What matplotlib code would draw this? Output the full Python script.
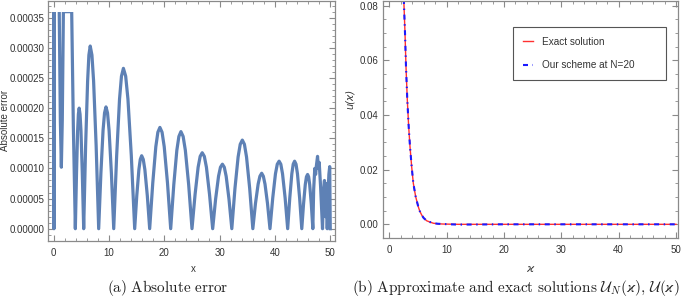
import matplotlib
matplotlib.use("Agg")
import matplotlib.pyplot as plt
from matplotlib.patches import Rectangle
from matplotlib.ticker import MultipleLocator, FormatStrFormatter

plt.rcParams['font.family'] = ['Liberation Sans Narrow', 'Liberation Sans', 'DejaVu Sans']

# (a) absolute error, y values in units of 1e-5
err_x = [0.0, 0.05, 0.12, 1.0, 1.2, 1.38, 1.55, 1.75,
         3.25, 3.55, 3.91,
         4.12, 4.32, 4.46, 4.6, 4.76, 4.93, 5.17, 5.42,
         5.77, 6.13, 6.36, 6.6, 6.91, 7.21, 7.67, 8.13,
         8.53, 8.92, 9.19, 9.45, 9.73, 10.01, 10.43, 10.85,
         11.38, 11.9, 12.25, 12.6, 13.01, 13.42, 14.03, 14.64,
         15.02, 15.4, 15.65, 15.9, 16.19, 16.48, 16.92, 17.35,
         17.91, 18.46, 18.83, 19.2, 19.59, 19.98, 20.57, 21.15,
         21.71, 22.26, 22.63, 23.0, 23.4, 23.8, 24.4, 25.0,
         25.56, 26.11, 26.48, 26.85, 27.23, 27.61, 28.17, 28.74,
         29.27, 29.8, 30.15, 30.5, 30.84, 31.18, 31.69, 32.2,
         32.77, 33.34, 33.72, 34.1, 34.48, 34.86, 35.43, 36.0,
         36.48, 36.96, 37.28, 37.6, 37.9, 38.2, 38.65, 39.1,
         39.6, 40.09, 40.42, 40.75, 41.06, 41.37, 41.84, 42.3,
         42.68, 43.05, 43.3, 43.55, 43.81, 44.07, 44.46, 44.85,
         45.17, 45.48, 45.69, 45.9, 46.09, 46.28, 46.57, 46.85,
         47.0, 47.2, 47.35, 47.5, 47.7, 47.85, 48.0, 48.25, 48.6,
         48.8, 48.95, 49.15, 49.3, 49.45, 49.6, 49.75, 49.9, 49.97, 50.0]
err_y = [60.0, 0.0, 60.0, 36.0, 18.0, 10.2, 18.0, 36.0,
         36.0, 17.0, 0.0,
         9.1, 16.2, 19.0, 20.0, 19.0, 16.2, 9.1, 0.0,
         13.8, 24.5, 28.8, 30.3, 28.8, 24.5, 13.8, 0.0,
         9.2, 16.3, 19.2, 20.2, 19.2, 16.3, 9.2, 0.0,
         12.1, 21.5, 25.3, 26.6, 25.3, 21.5, 12.1, 0.0,
         5.5, 9.8, 11.5, 12.1, 11.5, 9.8, 5.5, 0.0,
         7.6, 13.6, 16.0, 16.8, 16.0, 13.6, 7.6, 0.0,
         7.3, 13.0, 15.3, 16.1, 15.3, 13.0, 7.3, 0.0,
         5.7, 10.2, 12.0, 12.6, 12.0, 10.2, 5.7, 0.0,
         4.9, 8.7, 10.2, 10.7, 10.2, 8.7, 4.9, 0.0,
         6.7, 11.9, 14.0, 14.7, 14.0, 11.9, 6.7, 0.0,
         4.2, 7.4, 8.7, 9.2, 8.7, 7.4, 4.2, 0.0,
         5.1, 9.1, 10.7, 11.2, 10.7, 9.1, 5.1, 0.0,
         5.1, 9.1, 10.7, 11.2, 10.7, 9.1, 5.1, 0.0,
         4.1, 7.3, 8.6, 9.0, 8.6, 7.3, 4.1, 0.0,
         6.5, 10.0, 9.0, 10.5, 12.0, 10.0, 11.0, 7.0, 0.0,
         6.5, 8.0, 2.0, 7.5, 0.0, 6.0, 9.0, 10.3, 4.0, 0.0]

# (b) exact solution and scheme at N=20
u_x = [2.2, 2.56, 2.74, 2.91, 3.14, 3.38, 3.61, 3.9, 4.19, 4.6, 5.06, 5.3,
       5.65, 6.0, 6.52, 7.0, 7.68, 8.5, 9.4, 12.0, 20.0, 30.0, 40.0, 50.0]
exact_y = [0.112, 0.0803, 0.0699, 0.0577, 0.0455, 0.0357, 0.0284, 0.0211, 0.0150,
           0.0101, 0.0064, 0.0049, 0.0034, 0.0023, 0.0013, 0.0009, 0.0004, 0.0002,
           0.0001, 0.0, 0.0, 0.0, 0.0, 0.0]
scheme_y = [0.112, 0.0803, 0.0699, 0.0577, 0.0455, 0.0357, 0.0284, 0.0211, 0.0150,
            0.0101, 0.0064, 0.0049, 0.0034, 0.0023, 0.0013, 0.0009, 0.0004, 0.0002,
            0.0001, -0.0001, 0.0, 0.0, 0.0, 0.0]

frame_c = '#8a8a8a'
text_c = '#333333'


def style_axes(ax):
    for s in ax.spines.values():
        s.set_color(frame_c)
        s.set_linewidth(0.9)
    ax.tick_params(which='both', direction='in', top=True, right=True,
                   color=frame_c, labelcolor=text_c, labelsize=7)
    ax.tick_params(which='major', length=4, width=0.8)
    ax.tick_params(which='minor', length=2.2, width=0.6)
    ax.tick_params(axis='y', pad=3)
    ax.tick_params(axis='x', pad=5)


fig = plt.figure(figsize=(6.85, 2.98), dpi=100)

ax1 = fig.add_axes([0.0705, 0.1923, 0.4185, 0.806])
line, = ax1.plot(err_x, [v * 1e-5 for v in err_y], color='#5e81b5', lw=2.3,
                 solid_joinstyle='round')
clip = Rectangle((-5, -1), 60, 1 + 0.00036, transform=ax1.transData)
line.set_clip_path(clip)
ax1.set_xlim(-0.98, 50.85)
ax1.set_ylim(-0.0000199, 0.0003785)
ax1.xaxis.set_major_locator(MultipleLocator(10))
ax1.xaxis.set_minor_locator(MultipleLocator(2))
ax1.yaxis.set_major_locator(MultipleLocator(0.00005))
ax1.yaxis.set_minor_locator(MultipleLocator(0.00001))
ax1.yaxis.set_major_formatter(FormatStrFormatter('%.5f'))
style_axes(ax1)
ax1.set_xlabel('x', fontsize=7, color=text_c)
ax1.set_ylabel('Absolute error', fontsize=7, color=text_c, family=['Liberation Sans', 'DejaVu Sans'])
ax1.xaxis.set_label_coords(0.505, -0.097)
ax1.yaxis.set_label_coords(-0.132, 0.5)

ax2 = fig.add_axes([0.5587, 0.2003, 0.4315, 0.798])
ax2.plot(u_x, exact_y, color='#ff3030', lw=1.0, label='Exact solution')
ax2.plot(u_x, scheme_y, color='#1a1aff', lw=1.5, linestyle=(0, (2.4, 2.2, 0.7, 2.2)),
         label='Our scheme at N=20')
ax2.set_xlim(-1.15, 50.4)
ax2.set_ylim(-0.00512, 0.0819)
ax2.xaxis.set_major_locator(MultipleLocator(10))
ax2.xaxis.set_minor_locator(MultipleLocator(2))
ax2.yaxis.set_major_locator(MultipleLocator(0.02))
ax2.yaxis.set_minor_locator(MultipleLocator(0.005))
ax2.yaxis.set_major_formatter(FormatStrFormatter('%.2f'))
style_axes(ax2)
ax2.set_xlabel('ϰ', fontsize=8, color=text_c, style='italic', family=['DejaVu Sans'])
ax2.set_ylabel('u(ϰ)', fontsize=7, color=text_c, style='italic', family=['DejaVu Sans'])
ax2.xaxis.set_label_coords(0.498, -0.108)
ax2.yaxis.set_label_coords(-0.094, 0.586)

leg = ax2.legend(loc='upper left', bbox_to_anchor=(0.4408, 0.657, 0.5176, 0.2313),
                 mode='expand', fancybox=False, edgecolor='#555555', framealpha=1,
                 prop={'family': ['Liberation Sans', 'DejaVu Sans'], 'size': 7.2},
                 handlelength=1.0, handletextpad=0.9, borderpad=0.95, labelspacing=1.35,
                 borderaxespad=0)
leg.get_frame().set_linewidth(0.8)
for t in leg.get_texts():
    t.set_color(text_c)

fig.text(168 / 685, 1 - 288 / 298, r'$\mathrm{(a)\ Absolute\ error}$', ha='center', va='center',
         fontsize=11, math_fontfamily='cm', color='#222222')
fig.text(516 / 685, 1 - 288 / 298,
         r'$\mathrm{(b)\ Approximate\ and\ exact\ solutions}\ \mathcal{U}_N(\varkappa),\,\mathcal{U}(\varkappa)$',
         ha='center', va='center', fontsize=11, math_fontfamily='cm', color='#222222')

fig.savefig('out.png', dpi=100)
